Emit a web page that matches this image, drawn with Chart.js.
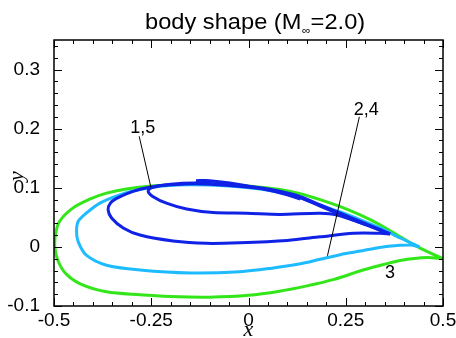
<!DOCTYPE html>
<html>
<head>
<meta charset="utf-8">
<script src="https://cdn.jsdelivr.net/npm/chart.js@4/dist/chart.umd.min.js"></script>
<style>
  html, body { margin: 0; padding: 0; background: #fff; }
  #wrap { width: 456px; height: 338px; }
</style>
</head>
<body>
<div id="wrap"><canvas id="shapeChart" width="456" height="338"></canvas></div>
<script>
// ========== DATA ==========
const xTickValues = [-0.5, -0.25, 0, 0.25, 0.5];
const xTickLabels = ['-0.5', '-0.25', '0', '0.25', '0.5'];
const yTickValues = [-0.1, 0, 0.1, 0.2, 0.3];
const yTickLabels = ['-0.1', '0', '0.1', '0.2', '0.3'];

// shape 3 (green): TE -> upper -> LE -> lower -> TE
const shape3 = [
    [0.5, -0.02], [0.441, -0.002], [0.39, 0.017], [0.339, 0.037], [0.287, 0.054],
    [0.236, 0.068], [0.184, 0.08], [0.133, 0.09], [0.081, 0.097], [0.03, 0.101],
    [-0.05, 0.105], [-0.15, 0.106], [-0.25, 0.103], [-0.314, 0.098], [-0.365, 0.091],
    [-0.408, 0.081], [-0.451, 0.066], [-0.486, 0.043], [-0.496, 0.022], [-0.498, 0.0],
    [-0.49, -0.023], [-0.47, -0.045], [-0.434, -0.062], [-0.365, -0.076], [-0.28, -0.081],
    [-0.2, -0.084], [-0.1, -0.085], [0.0, -0.082], [0.08, -0.075], [0.15, -0.066],
    [0.22, -0.055], [0.29, -0.04], [0.34, -0.031], [0.39, -0.023], [0.42, -0.02],
    [0.46, -0.018], [0.5, -0.02]
];

// shapes 2,4 (light blue)
const shape24 = [
    [0.44, 0.0], [0.39, 0.015], [0.339, 0.032], [0.287, 0.046], [0.236, 0.059],
    [0.184, 0.071], [0.133, 0.083], [0.081, 0.092], [0.03, 0.098], [-0.05, 0.103],
    [-0.15, 0.105], [-0.22, 0.103], [-0.279, 0.097], [-0.331, 0.088], [-0.382, 0.074],
    [-0.417, 0.057], [-0.438, 0.043], [-0.442, 0.026], [-0.438, 0.009], [-0.417, -0.014],
    [-0.365, -0.031], [-0.279, -0.039], [-0.151, -0.044], [-0.022, -0.042], [0.06, -0.036],
    [0.13, -0.029], [0.184, -0.021], [0.23, -0.014], [0.27, -0.009], [0.32, -0.003],
    [0.36, 0.001], [0.416, 0.003], [0.44, 0.0]
];

// shapes 1,5 (dark blue): larger loop
const shape15a = [
    [0.364, 0.022], [0.339, 0.023], [0.27, 0.023], [0.184, 0.017], [0.1, 0.011],
    [-0.022, 0.007], [-0.108, 0.006], [-0.194, 0.01], [-0.279, 0.02], [-0.322, 0.032],
    [-0.352, 0.049], [-0.361, 0.063], [-0.355, 0.074], [-0.339, 0.082], [-0.297, 0.094],
    [-0.254, 0.101], [-0.2, 0.105], [-0.133, 0.107], [-0.05, 0.104], [0.03, 0.099],
    [0.081, 0.093], [0.133, 0.083], [0.184, 0.069], [0.236, 0.055], [0.287, 0.041],
    [0.339, 0.028], [0.364, 0.022]
];

// shapes 1,5 (dark blue): small loop with the cusp
const shape15b = [
    [0.364, 0.022], [0.3, 0.038], [0.227, 0.054], [0.184, 0.057], [0.081, 0.055],
    [-0.005, 0.057], [-0.091, 0.058], [-0.159, 0.064], [-0.211, 0.074], [-0.245, 0.085],
    [-0.258, 0.094], [-0.25, 0.1], [-0.2, 0.106], [-0.133, 0.108], [-0.05, 0.105],
    [0.03, 0.1], [0.081, 0.094], [0.133, 0.085], [0.184, 0.071], [0.236, 0.057],
    [0.287, 0.043], [0.339, 0.029], [0.364, 0.022]
];

// shapes 1,5 (dark blue): top stroke
const shape15c = [
    [-0.135, 0.112], [-0.1, 0.112], [-0.048, 0.108], [0.038, 0.098], [0.09, 0.09], [0.133, 0.081]
];

// label leaders and texts
const leader15 = [[-0.281, 0.187], [-0.251, 0.101]];
const leader24 = [[0.285, 0.22], [0.203, -0.015]];
const labelTexts = ['1,5', '2,4', '3'];
const labelPos = [[-0.272, 0.201], [0.303, 0.232], [0.364, -0.044]];

const toPts = arr => arr.map(p => ({ x: p[0], y: p[1] }));

const GREEN = '#33e61a';
const CYAN = '#1ebbff';
const BLUE = '#0f22e6';

// ========== PLUGIN: frame, inward ticks, title, axis titles, labels ==========
const decorPlugin = {
    id: 'decor',
    afterDraw(chart) {
        const ctx = chart.ctx;
        const a = chart.chartArea;
        const xs = chart.scales.x, ys = chart.scales.y;
        ctx.save();

        // frame
        ctx.strokeStyle = '#000';
        ctx.lineWidth = 1.5;
        ctx.strokeRect(a.left, a.top, a.right - a.left, a.bottom - a.top);

        // ticks pointing inward, all four sides
        ctx.lineWidth = 1;
        ctx.beginPath();
        for (let i = 0; i <= 20; i++) {
            const v = -0.5 + i * 0.05;
            const px = Math.round(xs.getPixelForValue(v)) + 0.5;
            const len = (i % 5 === 0) ? 8 : 4;
            ctx.moveTo(px, a.bottom); ctx.lineTo(px, a.bottom - len);
            ctx.moveTo(px, a.top); ctx.lineTo(px, a.top + len);
        }
        for (let i = 0; i <= 22; i++) {
            const v = -0.1 + i * 0.02;
            const py = Math.round(ys.getPixelForValue(v)) + 0.5;
            const len = (i % 5 === 0) ? 8 : 4;
            ctx.moveTo(a.left, py); ctx.lineTo(a.left + len, py);
            ctx.moveTo(a.right, py); ctx.lineTo(a.right - len, py);
        }
        ctx.stroke();

        // curve labels
        ctx.fillStyle = '#000';
        ctx.font = '18px "Liberation Sans", Arial, sans-serif';
        ctx.textAlign = 'center';
        ctx.textBaseline = 'middle';
        labelTexts.forEach((t, i) => {
            ctx.fillText(t, xs.getPixelForValue(labelPos[i][0]), ys.getPixelForValue(labelPos[i][1]));
        });

        // title: body shape (M∞=2.0)
        ctx.save();
        ctx.translate(145, 29);
        ctx.scale(1.1, 1);
        ctx.textAlign = 'left';
        ctx.textBaseline = 'alphabetic';
        ctx.font = '21.5px "Liberation Sans", Arial, sans-serif';
        const part1 = 'body shape (M';
        ctx.fillText(part1, 0, 0);
        let w = ctx.measureText(part1).width;
        ctx.font = '11px "Liberation Sans", Arial, sans-serif';
        ctx.fillText('\u221E', w + 0.5, 5);
        w += ctx.measureText('\u221E').width + 0.5;
        ctx.font = '21.5px "Liberation Sans", Arial, sans-serif';
        ctx.fillText('=2.0)', w, 0);
        ctx.restore();

        // axis titles
        ctx.font = 'italic 22px "Liberation Serif", "Times New Roman", serif';
        ctx.textAlign = 'center';
        ctx.textBaseline = 'alphabetic';
        ctx.fillText('x', 248.5, 336);
        ctx.save();
        ctx.translate(23, 176);
        ctx.rotate(-Math.PI / 2);
        ctx.fillText('y', 0, 0);
        ctx.restore();

        ctx.restore();
    }
};

const curve = (data, color, width) => ({
    data: toPts(data),
    showLine: true,
    borderColor: color,
    backgroundColor: color,
    borderWidth: width,
    pointRadius: 0,
    tension: 0.3,
    fill: false
});

const leader = data => ({
    data: toPts(data),
    showLine: true,
    borderColor: '#000',
    borderWidth: 1,
    pointRadius: 0,
    tension: 0,
    fill: false
});

new Chart(document.getElementById('shapeChart'), {
    type: 'scatter',
    data: {
        datasets: [
            leader(leader15),
            leader(leader24),
            curve(shape15c, BLUE, 3),
            curve(shape15b, BLUE, 3),
            curve(shape15a, BLUE, 3),
            curve(shape24, CYAN, 3),
            curve(shape3, GREEN, 3)
        ]
    },
    options: {
        responsive: false,
        animation: false,
        events: [],
        layout: { padding: { top: 40, right: 13, left: 0, bottom: 0 } },
        plugins: {
            legend: { display: false },
            tooltip: { enabled: false },
            title: { display: false }
        },
        scales: {
            x: {
                type: 'linear',
                min: -0.5,
                max: 0.5,
                afterBuildTicks: s => { s.ticks = xTickValues.map(v => ({ value: v })); },
                afterFit: s => { s.height = 32; },
                grid: { display: false },
                border: { display: false },
                ticks: {
                    color: '#000',
                    font: { family: '"Liberation Sans", Arial, sans-serif', size: 19 },
                    padding: -5,
                    maxRotation: 0,
                    autoSkip: false,
                    callback: (v, i) => xTickLabels[i]
                }
            },
            y: {
                type: 'linear',
                min: -0.1,
                max: 0.35,
                afterBuildTicks: s => { s.ticks = yTickValues.map(v => ({ value: v })); },
                afterFit: s => { s.width = 54; },
                grid: { display: false },
                border: { display: false },
                ticks: {
                    color: '#000',
                    font: { family: '"Liberation Sans", Arial, sans-serif', size: 19 },
                    padding: 6,
                    autoSkip: false,
                    callback: (v, i) => yTickLabels[i]
                }
            }
        }
    },
    plugins: [decorPlugin]
});
</script>
</body>
</html>
